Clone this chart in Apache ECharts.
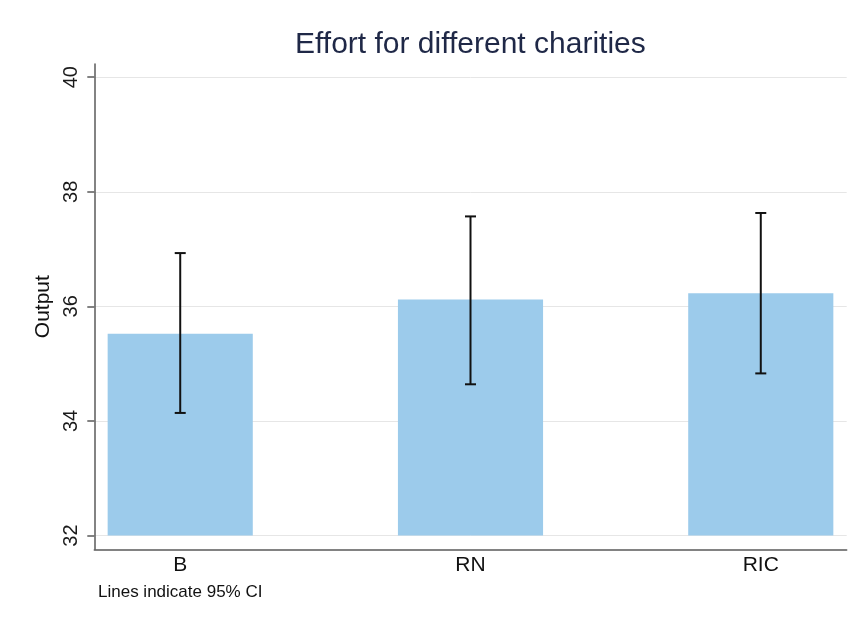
<!DOCTYPE html>
<html>
<head>
<meta charset="utf-8">
<title>Effort for different charities</title>
<script src="https://cdn.jsdelivr.net/npm/echarts@6/dist/echarts.min.js"></script>
<style>
  html, body { margin: 0; padding: 0; background: #ffffff; }
  #chart { width: 856px; height: 625px; }
</style>
</head>
<body>
<div id="chart"></div>
<script>
// Mean output per charity treatment with 95% confidence interval bounds
const categories = ['B', 'RN', 'RIC'];
const means = [35.52, 36.12, 36.23];
const ciLow = [34.14, 34.64, 34.83];
const ciHigh = [36.93, 37.57, 37.63];
const yTicks = [32, 34, 36, 38, 40];
const barBase = 32;

const FONT = '"Liberation Sans", Arial, Helvetica, sans-serif';
const AXIS_GREY = '#5a5a5a';

const chart = echarts.init(document.getElementById('chart'), null, { renderer: 'canvas' });

const barData = categories.map((c, i) => [i, means[i]]);
const ciData = categories.map((c, i) => [i, ciLow[i], ciHigh[i]]);

chart.setOption({
  animation: false,
  backgroundColor: '#ffffff',
  textStyle: { fontFamily: FONT },
  title: [
    {
      text: 'Effort for different charities',
      left: 295,
      top: 30,
      padding: 0,
      textStyle: { fontFamily: FONT, fontSize: 30, fontWeight: 'normal', color: '#1f2847' }
    },
    {
      text: 'Lines indicate 95% CI',
      left: 98,
      top: 584,
      padding: 0,
      textStyle: { fontFamily: FONT, fontSize: 17, fontWeight: 'normal', color: '#111111' }
    }
  ],
  grid: { left: 94.3, right: 9.3, top: 64, bottom: 75.7, containLabel: false },
  xAxis: {
    type: 'value',
    min: -0.296,
    max: 2.296,
    splitLine: { show: false },
    axisTick: { show: false },
    axisLine: { show: true, onZero: false, lineStyle: { color: AXIS_GREY, width: 1.5 } },
    axisLabel: {
      customValues: [0, 1, 2],
      formatter: v => categories[Math.round(v)],
      fontFamily: FONT,
      fontSize: 21,
      color: '#111111',
      margin: 5
    }
  },
  yAxis: {
    type: 'value',
    min: 31.76,
    max: 40.23,
    name: 'Output',
    nameLocation: 'middle',
    nameRotate: 90,
    nameGap: 39,
    nameTextStyle: { fontFamily: FONT, fontSize: 21, color: '#111111' },
    splitLine: { show: false },
    axisLine: { show: true, onZero: false, lineStyle: { color: AXIS_GREY, width: 1.5 } },
    axisTick: { show: true, customValues: yTicks, length: 7, lineStyle: { color: AXIS_GREY, width: 1.5 } },
    axisLabel: {
      customValues: yTicks,
      rotate: 90,
      fontFamily: FONT,
      fontSize: 20,
      color: '#1a1a1a',
      margin: 13
    }
  },
  series: [
    {
      // horizontal grid lines, drawn behind the bars
      type: 'line',
      data: [],
      z: 1,
      silent: true,
      markLine: {
        silent: true,
        z: 0,
        symbol: 'none',
        label: { show: false },
        lineStyle: { color: '#e6e6e6', width: 1, type: 'solid' },
        data: yTicks.map(v => ({ yAxis: v }))
      }
    },
    {
      type: 'custom',
      z: 2,
      data: barData,
      renderItem: function (params, api) {
        const x = api.value(0);
        const top = api.coord([x, api.value(1)]);
        const base = api.coord([x, barBase]);
        const w = api.size([0.5, 0])[0];
        return {
          type: 'rect',
          shape: { x: top[0] - w / 2, y: top[1], width: w, height: base[1] - top[1] },
          style: { fill: '#9ccbeb' }
        };
      }
    },
    {
      type: 'custom',
      z: 3,
      data: ciData,
      renderItem: function (params, api) {
        const x = api.value(0);
        const lo = api.coord([x, api.value(1)]);
        const hi = api.coord([x, api.value(2)]);
        const cap = 5.5;
        const style = { stroke: '#111111', lineWidth: 2 };
        return {
          type: 'group',
          children: [
            { type: 'line', shape: { x1: lo[0], y1: lo[1], x2: hi[0], y2: hi[1] }, style: style },
            { type: 'line', shape: { x1: hi[0] - cap, y1: hi[1], x2: hi[0] + cap, y2: hi[1] }, style: style },
            { type: 'line', shape: { x1: lo[0] - cap, y1: lo[1], x2: lo[0] + cap, y2: lo[1] }, style: style }
          ]
        };
      }
    }
  ]
});
</script>
</body>
</html>
